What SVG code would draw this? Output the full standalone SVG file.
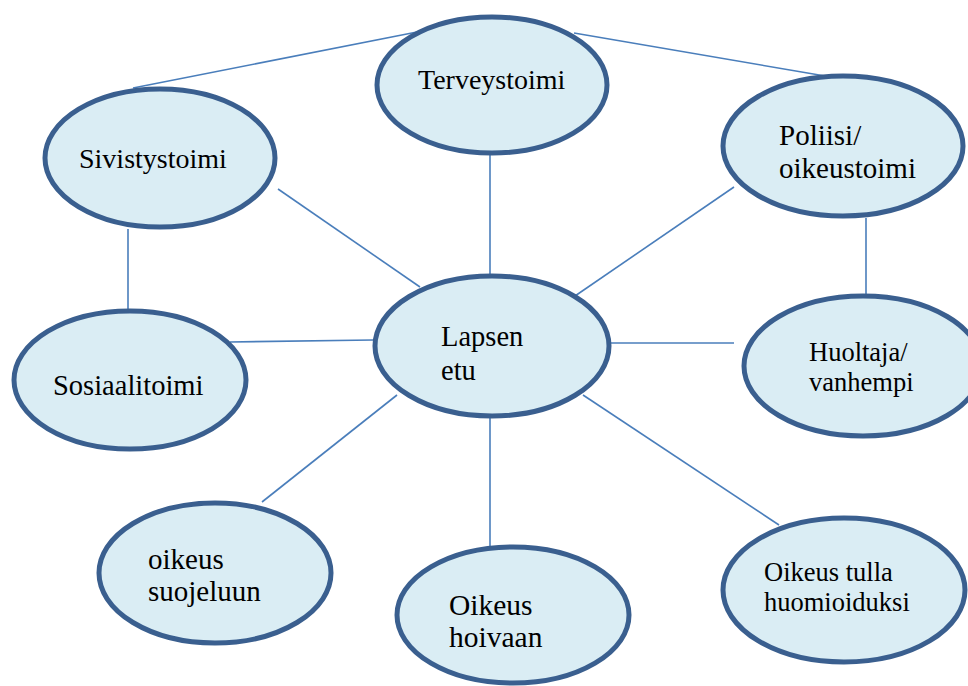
<svg xmlns="http://www.w3.org/2000/svg" width="968" height="686" viewBox="0 0 968 686">
<style>
.n{fill:#daedf4;stroke:#3a5f8f;stroke-width:5}
.c line{stroke:#4a7ebb;stroke-width:1.6}
text{font-family:"Liberation Serif","Times New Roman",serif;fill:#000}
</style>
<rect width="968" height="686" fill="#fff"/>
<g class="c" id="connectors">
<line x1="133" y1="88" x2="417" y2="32"/>
<line x1="574" y1="33" x2="831" y2="77"/>
<line x1="490" y1="155" x2="490" y2="275"/>
<line x1="278" y1="189" x2="420" y2="287"/>
<line x1="128" y1="229" x2="128" y2="310"/>
<line x1="230" y1="342" x2="373" y2="340"/>
<line x1="575" y1="296" x2="734" y2="187"/>
<line x1="866" y1="218" x2="866" y2="296"/>
<line x1="609" y1="343" x2="734" y2="343"/>
<line x1="397" y1="395" x2="262" y2="502"/>
<line x1="490" y1="418" x2="490" y2="548"/>
<line x1="583" y1="395" x2="779" y2="525"/>
</g>
<g id="terveystoimi"><ellipse class="n" cx="492" cy="85" rx="115" ry="68"/><text x="418" y="89" font-size="28">Terveystoimi</text></g>
<g id="sivistystoimi"><ellipse class="n" cx="160" cy="158" rx="115" ry="69"/><text x="79" y="168" font-size="28">Sivistystoimi</text></g>
<g id="poliisi"><ellipse class="n" cx="843" cy="146" rx="120" ry="70"/><text font-size="29"><tspan x="779" y="145">Poliisi/</tspan><tspan x="779" y="178">oikeustoimi</tspan></text></g>
<g id="sosiaalitoimi"><ellipse class="n" cx="130" cy="380" rx="116" ry="69"/><text x="53" y="395" font-size="28.5">Sosiaalitoimi</text></g>
<g id="lapsen-etu"><ellipse class="n" cx="492" cy="346" rx="117" ry="70"/><text font-size="28.5"><tspan x="441" y="346">Lapsen</tspan><tspan x="441" y="380">etu</tspan></text></g>
<g id="huoltaja"><ellipse class="n" cx="863" cy="366" rx="119" ry="70"/><text font-size="26.5"><tspan x="809" y="361">Huoltaja/</tspan><tspan x="809" y="391">vanhempi</tspan></text></g>
<g id="oikeus-suojeluun"><ellipse class="n" cx="215" cy="573" rx="116" ry="70"/><text font-size="29"><tspan x="148" y="569">oikeus</tspan><tspan x="148" y="601">suojeluun</tspan></text></g>
<g id="oikeus-hoivaan"><ellipse class="n" cx="513" cy="615" rx="116" ry="68"/><text font-size="29.5"><tspan x="449" y="615">Oikeus</tspan><tspan x="449" y="647">hoivaan</tspan></text></g>
<g id="oikeus-tulla"><ellipse class="n" cx="844" cy="590" rx="121" ry="72"/><text font-size="26.5"><tspan x="764" y="581">Oikeus tulla</tspan><tspan x="764" y="611">huomioiduksi</tspan></text></g>
</svg>
